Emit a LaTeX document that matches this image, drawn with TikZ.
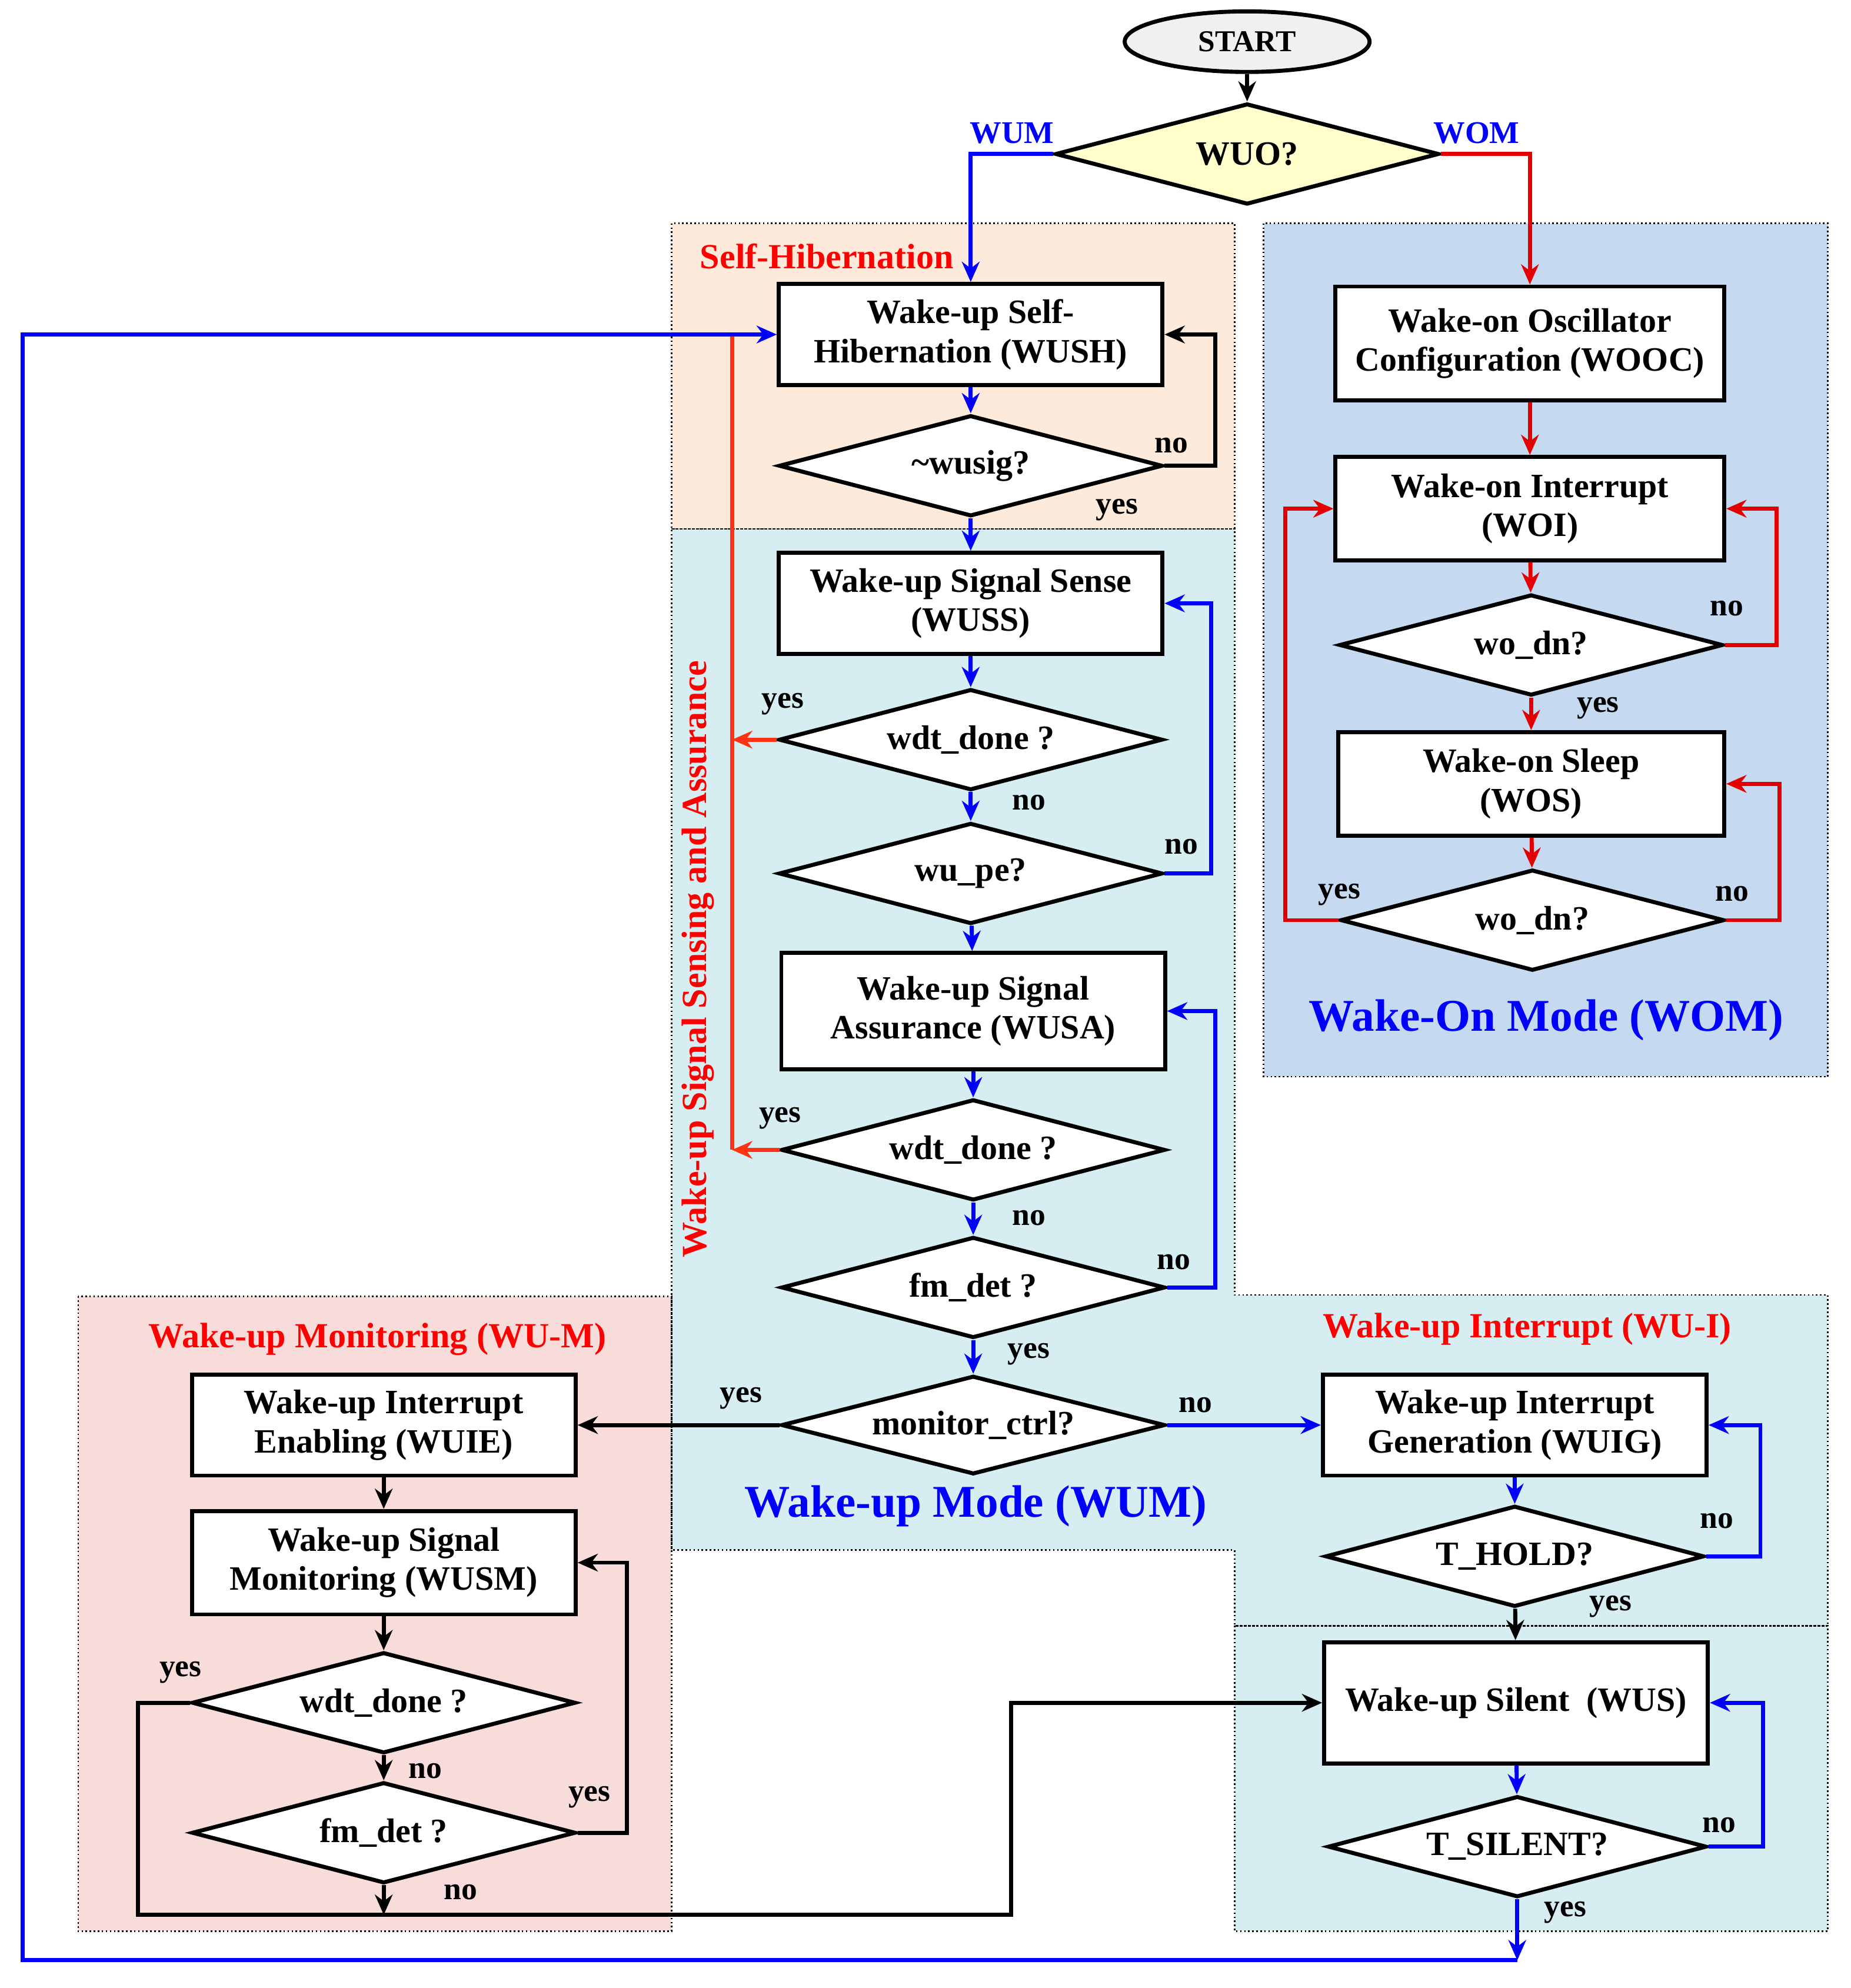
\documentclass[tikz,border=0pt]{standalone}
\usepackage{fontspec}
\setmainfont{Liberation Serif}
\usetikzlibrary{shapes.geometric,arrows.meta}
\definecolor{wublue}{RGB}{0,0,255}
\definecolor{wored}{RGB}{228,0,0}
\definecolor{ssred}{RGB}{255,51,20}
\definecolor{shfill}{RGB}{253,234,218}
\definecolor{womfill}{RGB}{197,217,241}
\definecolor{wumfill}{RGB}{214,237,242}
\definecolor{monfill}{RGB}{248,220,218}
\definecolor{qfill}{RGB}{255,255,204}
\tikzset{
  proc/.style={rectangle,draw,line width=1.6pt,fill=white,align=center,minimum width=152pt,font=\fontsize{13.5}{15.5}\selectfont\bfseries},
  dec/.style={diamond,draw,line width=1.6pt,fill=white,inner sep=0pt,aspect=3.8,minimum width=152pt,minimum height=40pt,font=\fontsize{13.5}{15}\selectfont\bfseries},
  lbl/.style={font=\fontsize{12.5}{14}\selectfont\bfseries},
  region/.style={font=\fontsize{14}{16}\selectfont\bfseries,text=red},
  mode/.style={font=\fontsize{18}{20}\selectfont\bfseries,text=wublue},
  zone/.style={draw,densely dotted,line width=0.6pt},
  bl/.style={draw=wublue,line width=1.6pt,-{Stealth[length=8pt,width=7pt]}},
  rd/.style={draw=wored,line width=1.6pt,-{Stealth[length=8pt,width=7pt]}},
  bk/.style={draw=black,line width=1.6pt,-{Stealth[length=8pt,width=7pt]}},
  og/.style={draw=ssred,line width=1.6pt,-{Stealth[length=8pt,width=7pt]}},
}
\begin{document}
\begin{tikzpicture}[x=0.5pt,y=-0.5pt]
\useasboundingbox (0,0) rectangle (1466,1575);
% zones
\fill[shfill] (532,177) rectangle (978,419);
\fill[womfill] (1001,177) rectangle (1448,853);
\fill[wumfill] (532,419) -- (978,419) -- (978,1026) -- (1448,1026) -- (1448,1288) -- (978,1288) -- (978,1228) -- (532,1228) -- cycle;
\fill[wumfill] (978,1288) rectangle (1448,1530);
\fill[monfill] (62,1027) rectangle (532,1530);
\draw[zone] (532,177) rectangle (978,419);
\draw[zone] (1001,177) rectangle (1448,853);
\draw[zone] (532,419) -- (978,419) -- (978,1026) -- (1448,1026) -- (1448,1288) -- (978,1288) -- (978,1228) -- (532,1228) -- cycle;
\draw[zone] (978,1288) rectangle (1448,1530);
\draw[zone] (62,1027) rectangle (532,1530);
%
\node at (655,203) [region] (tsh) {Self-Hibernation};
\node at (553,760) [region,rotate=90] (tss) {Wake-up Signal Sensing and Assurance};
\node at (299,1061) [region] (tmon) {Wake-up Monitoring (WU-M)};
\node at (1210,1053) [region] (tint) {Wake-up Interrupt (WU-I)};
\node at (773,1193) [mode] (twum) {Wake-up Mode (WUM)};
\node at (1225,808) [mode] (twom) {Wake-On Mode (WOM)};
%
\node at (988,33) [ellipse,draw,line width=1.6pt,fill=gray!12,minimum width=97pt,minimum height=24pt,font=\fontsize{12}{14}\selectfont\bfseries] (start) {START};
\node at (988,122) [dec,fill=qfill] (wuo) {WUO?};
%
\node at (769,265) [proc,minimum height=40pt] (wush) {Wake-up Self-\\Hibernation (WUSH)};
\node at (769,369) [dec] (wusig) {\textasciitilde wusig?};
\node at (769,478) [proc,minimum height=40pt] (wuss) {Wake-up Signal Sense\\(WUSS)};
\node at (769,586) [dec] (wdta) {wdt\_done ?};
\node at (769,692) [dec] (wupe) {wu\_pe?};
\node at (771,801) [proc,minimum height=46pt] (wusa) {Wake-up Signal\\Assurance (WUSA)};
\node at (771,911) [dec] (wdtb) {wdt\_done ?};
\node at (771,1020) [dec] (fmda) {fm\_det ?};
\node at (771,1129) [dec,minimum height=39pt] (mctl) {monitor\_ctrl?};
%
\node at (304,1129) [proc,minimum height=40pt] (wuie) {Wake-up Interrupt\\Enabling (WUIE)};
\node at (304,1238) [proc,minimum height=41pt] (wusm) {Wake-up Signal\\Monitoring (WUSM)};
\node at (304,1349) [dec] (wdtc) {wdt\_done ?};
\node at (304,1452) [dec] (fmdb) {fm\_det ?};
%
\node at (1200,1129) [proc,minimum height=40pt] (wuig) {Wake-up Interrupt\\Generation (WUIG)};
\node at (1200,1233) [dec,minimum width=150pt] (thold) {T\_HOLD?};
\node at (1201,1349) [proc,minimum height=48pt] (wus) {Wake-up Silent~~(WUS)};
\node at (1202,1463) [dec,minimum width=150pt] (tsil) {T\_SILENT?};
%
\node at (1212,272) [proc,minimum height=45pt,minimum width=154pt] (wooc) {Wake-on Oscillator\\Configuration (WOOC)};
\node at (1212,403) [proc,minimum height=41pt,minimum width=154pt] (woi) {Wake-on Interrupt\\(WOI)};
\node at (1213,511) [dec] (wodna) {wo\_dn?};
\node at (1213,621) [proc,minimum height=41pt,minimum width=153pt] (wos) {Wake-on Sleep\\(WOS)};
\node at (1214,729) [dec] (wodnb) {wo\_dn?};
%
\coordinate (sstop) at (580,265);
\coordinate (ssa) at (580,586);
\coordinate (ssb) at (580,911);
\coordinate (wuback) at (1202,1553);
\coordinate (mjoin) at (304,1517);
%
\draw[bk] (start) -- (wuo);
\draw[bl] (wuo.west) -| node[pos=0.25,above,text=wublue,lbl] {WUM} (wush.north);
\draw[rd] (wuo.east) -| node[pos=0.2,above,text=wublue,lbl] {WOM} (wooc.north);
%
\draw[bl] (wush) -- (wusig);
\draw[bk] (wusig.east) -- ++(40,0) |- (wush.east);
\node at (928,353) [lbl] {no};
\draw[bl] (wusig) -- (wuss);
\node at (885,404) [lbl] {yes};
\draw[bl] (wuss) -- (wdta);
\draw[og] (wdta.west) -- (ssa);
\node at (620,558) [lbl] {yes};
\draw[bl] (wdta) -- (wupe);
\node at (815,636) [lbl] {no};
\draw[bl] (wupe.east) -- ++(37,0) |- (wuss.east);
\node at (936,671) [lbl] {no};
\draw[bl] (wupe) -- (wusa);
\draw[bl] (wusa) -- (wdtb);
\draw[og] (wdtb.west) -- (ssb);
\node at (618,886) [lbl] {yes};
\draw[bl] (wdtb) -- (fmda);
\node at (815,965) [lbl] {no};
\draw[bl] (fmda.east) -- ++(38,0) |- (wusa.east);
\node at (930,1000) [lbl] {no};
\draw[bl] (fmda) -- (mctl);
\node at (815,1073) [lbl] {yes};
\draw[ssred,line width=1.6pt] (sstop) -- (ssb);
%
\draw[bk] (mctl.west) -- (wuie.east);
\node at (587,1108) [lbl] {yes};
\draw[bl] (mctl.east) -- (wuig.west);
\node at (947,1113) [lbl] {no};
%
\draw[bk] (wuie) -- (wusm);
\draw[bk] (wusm) -- (wdtc);
\draw[bk] (wdtc.west) -- ++(-41,0) |- (mjoin) -- ++(497,0) |- (wus.west);
\node at (143,1325) [lbl] {yes};
\draw[bk] (wdtc) -- (fmdb);
\node at (337,1403) [lbl] {no};
\draw[bk] (fmdb.east) -- ++(39,0) |- (wusm.east);
\node at (467,1424) [lbl] {yes};
\draw[bk] (fmdb) -- (mjoin);
\node at (365,1499) [lbl] {no};
%
\draw[bl] (wuig) -- (thold);
\draw[bl] (thold.east) -- ++(43,0) |- (wuig.east);
\node at (1360,1205) [lbl] {no};
\draw[bk] (thold) -- (wus);
\node at (1276,1273) [lbl] {yes};
\draw[bl] (wus) -- (tsil);
\draw[bl] (tsil.east) -- ++(43,0) |- (wus.east);
\node at (1362,1446) [lbl] {no};
\draw[bl] (tsil) -- (wuback);
\node at (1240,1515) [lbl] {yes};
\draw[bl] (wuback) -- (18,1553) |- (wush.west);
%
\draw[rd] (wooc) -- (woi);
\draw[rd] (woi) -- (wodna);
\draw[rd] (wodna.east) -- ++(41,0) |- (woi.east);
\node at (1368,482) [lbl] {no};
\draw[rd] (wodna) -- (wos);
\node at (1266,561) [lbl] {yes};
\draw[rd] (wos) -- (wodnb);
\draw[rd] (wodnb.east) -- ++(42,0) |- (wos.east);
\node at (1372,708) [lbl] {no};
\draw[rd] (wodnb.west) -- ++(-42,0) |- (woi.west);
\node at (1061,709) [lbl] {yes};
\end{tikzpicture}
\end{document}
